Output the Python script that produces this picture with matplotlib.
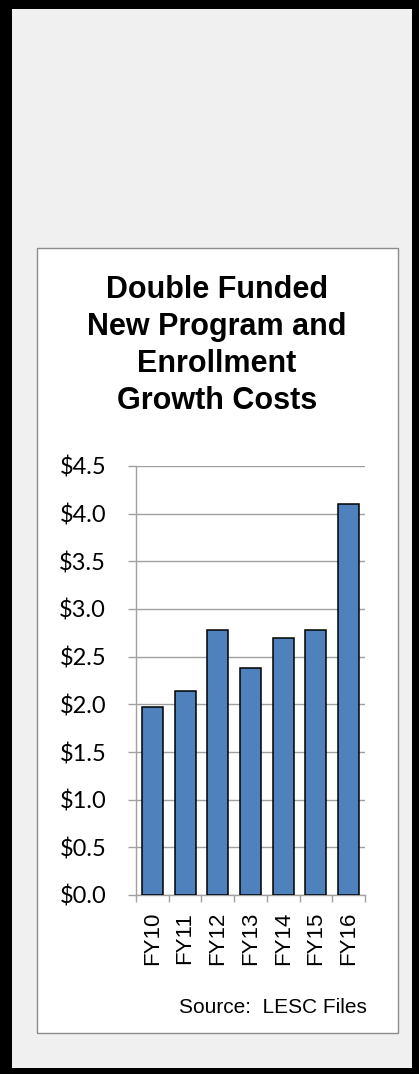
import matplotlib
matplotlib.use('Agg')
import matplotlib.pyplot as plt
from matplotlib.patches import Rectangle
import numpy as np

#-----------------------------------------------------------------------------
# Dados do gráfico

anos = ['FY10', 'FY11', 'FY12', 'FY13', 'FY14', 'FY15', 'FY16']
custos = [1.97, 2.14, 2.78, 2.38, 2.70, 2.78, 4.10]
y_ticks = [0.0, 0.5, 1.0, 1.5, 2.0, 2.5, 3.0, 3.5, 4.0, 4.5]
y_labels = ['$%.1f' % v for v in y_ticks]
titulo = ['Double Funded', 'New Program and', 'Enrollment', 'Growth Costs']
fonte = 'Source:  LESC Files'

#-----------------------------------------------------------------------------
W, H = 419, 1074
fig = plt.figure(figsize=(W / 100, H / 100), dpi=100)
fig.patch.set_facecolor('black')

def fx(px):
    return px / W

def fy(py):
    return 1 - py / H

# fundo cinza e caixa branca
fig.patches.append(Rectangle((fx(12), fy(1068)), fx(412) - fx(12), fy(9) - fy(1068),
                             transform=fig.transFigure, facecolor='#f0f0f0',
                             edgecolor='none', zorder=0))
fig.patches.append(Rectangle((fx(37), fy(1033)), fx(398) - fx(37), fy(248) - fy(1033),
                             transform=fig.transFigure, facecolor='white',
                             edgecolor='#8c8c8c', linewidth=1.0, zorder=1))

ax = fig.add_axes([fx(136), fy(895), fx(365) - fx(136), fy(466) - fy(895)])
ax.set_facecolor('white')
ax.set_zorder(2)

x = np.arange(len(anos))
ax.bar(x, custos, width=0.64, color='#4f81bd', edgecolor='black', linewidth=1.1, zorder=3)

ax.set_xlim(-0.5, len(anos) - 0.5)
ax.set_ylim(0, 4.5)

grid_cor = '#a0a0a0'
ax.set_yticks(y_ticks)
ax.set_yticklabels(y_labels, fontfamily='Lato', fontsize=17)
ax.yaxis.grid(True, color=grid_cor, linewidth=1.0, zorder=1)
ax.tick_params(axis='y', direction='out', length=6, width=1.0, color=grid_cor, pad=15.5)

ax.set_xticks(np.arange(-0.5, len(anos), 1.0))
ax.set_xticklabels([])
ax.set_xticks(x, minor=True)
ax.set_xticklabels(anos, minor=True, rotation=90, fontfamily='Liberation Sans', fontsize=16)
ax.tick_params(axis='x', which='major', direction='out', length=5, width=1.0, color=grid_cor)
ax.tick_params(axis='x', which='minor', length=0, pad=12)

for s in ['top', 'right']:
    ax.spines[s].set_visible(False)
for s in ['left', 'bottom']:
    ax.spines[s].set_color(grid_cor)
    ax.spines[s].set_linewidth(1.0)

# título
for i, linha in enumerate(titulo):
    fig.text(fx(217), fy(298 + 37 * i), linha, ha='center', va='baseline',
             fontfamily='Liberation Sans', fontweight='bold', fontsize=22)

fig.text(fx(367), fy(1013), fonte, ha='right', va='baseline',
         fontfamily='Liberation Sans', fontsize=15)

plt.savefig('out.png', dpi=100, facecolor=fig.get_facecolor())
